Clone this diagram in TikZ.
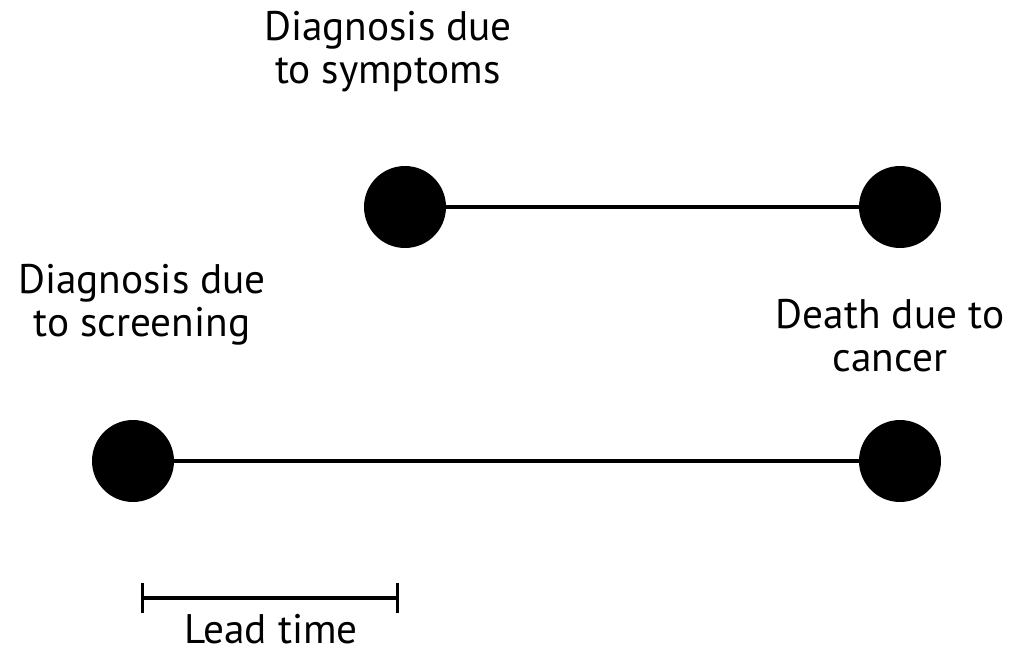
\documentclass[tikz,border=0pt]{standalone}
\usepackage{fontspec}
\setmainfont{PT Sans}
\usetikzlibrary{arrows.meta, positioning}
\tikzset{
  event/.style={circle, fill=black, minimum size=1.64cm, inner sep=0pt},
  span/.style={line width=1.9pt},
  labeltext/.style={inner sep=0pt, font=\fontsize{23.5}{24.2}\selectfont},
  caption/.style={labeltext, align=center, anchor=north}
}
\begin{document}
\begin{tikzpicture}[x=0.02cm, y=-0.02cm]
  \useasboundingbox (0,0) rectangle (1009,654);

  % --- Events ---
  \node (symptoms) [event] at (405,207) {};
  \node (death_top) [event] at (900,207) {};
  \node (screening) [event] at (133,461) {};
  \node (death_bot) [event] at (900,461) {};

  % --- Labels ---
  \node (lbl_symptoms) [caption] at (388,11) {Diagnosis due\\to symptoms};
  \node (lbl_screening) [caption] at (142,264) {Diagnosis due\\to screening};
  \node (lbl_death) [caption] at (890,299) {Death due to\\cancer};

  % --- Timelines ---
  \draw [span] (symptoms) -- (death_top);
  \draw [span] (screening) -- (death_bot);

  % --- Lead time ---
  \coordinate (lead_start) at (141,598);
  \coordinate (lead_end) at (399,598);
  \draw [span, {Bar[width=0.6cm]}-{Bar[width=0.6cm]}] (lead_start) -- (lead_end);
  \node (lbl_lead) [labeltext, anchor=base] at (271,643) {Lead time};
\end{tikzpicture}
\end{document}
